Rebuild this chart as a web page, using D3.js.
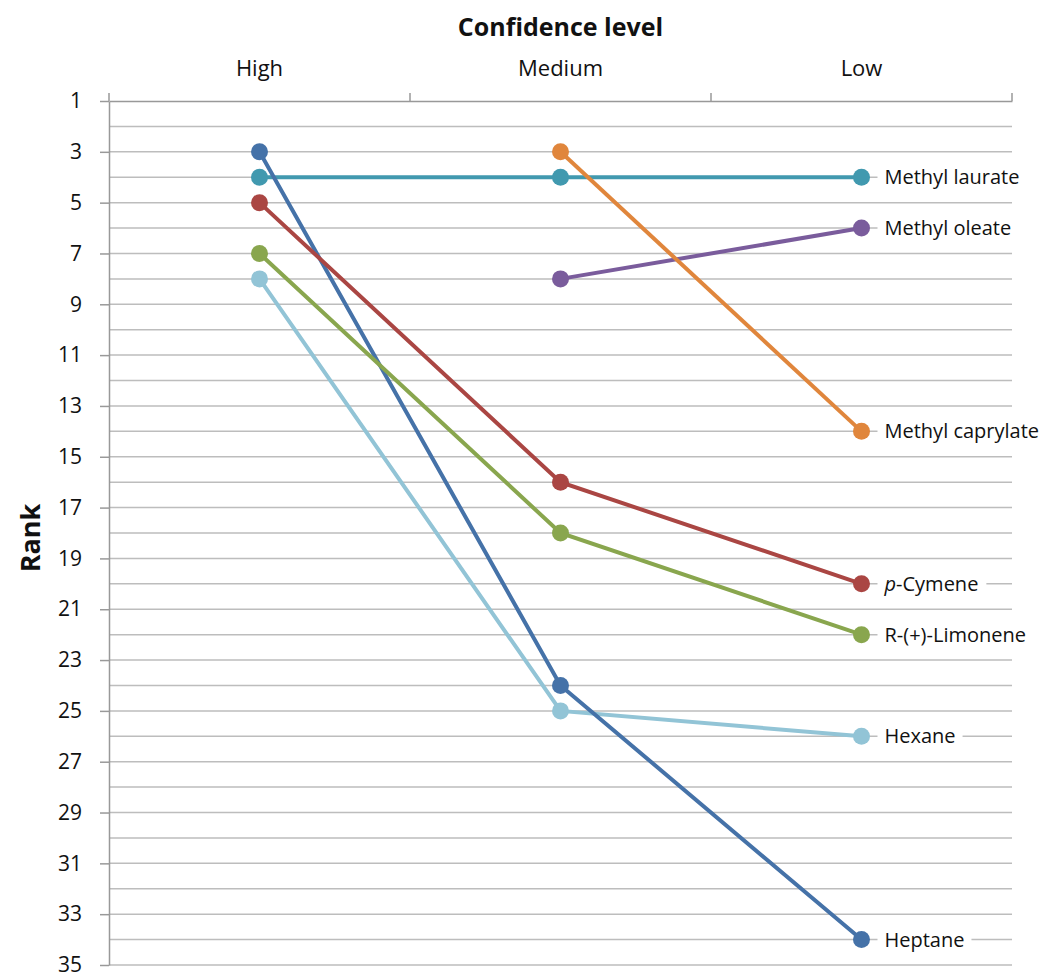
<!DOCTYPE html>
<html><head><meta charset="utf-8">
<script src="https://cdn.jsdelivr.net/npm/d3@7"></script>
<style>body{margin:0;background:#fff}</style>
</head><body>
<svg id="c" width="1043" height="973"></svg>
<script>
const levels = ["High", "Medium", "Low"];
const yTicks = [1,3,5,7,9,11,13,15,17,19,21,23,25,27,29,31,33,35];
const names = ["Methyl laurate","Hexane","Heptane","p-Cymene","R-(+)-Limonene","Methyl oleate","Methyl caprylate"];
const colors = ["#4199AF","#92C4D6","#4572A8","#AA4643","#89A64E","#7A5C9C","#E0863C"];
const heptane = [3, 24, 34];
const methylLaurate = [4, 4, 4];
const pCymene = [5, 16, 20];
const limonene = [7, 18, 22];
const hexane = [8, 25, 26];
const methylOleate = [null, 8, 6];
const methylCaprylate = [null, 3, 14];
const values = [methylLaurate, hexane, heptane, pCymene, limonene, methylOleate, methylCaprylate];

const svg = d3.select("#c");
const font = "'Open Sans', sans-serif";
const L = 109, R = 1012, T = 101, B = 965;
const x = d3.scaleBand().domain(levels).range([L, R]);
const y = d3.scaleLinear().domain([1, 35]).range([T, B]);
const cx = d => x(d) + x.bandwidth() / 2;

// gridlines at every rank
svg.append("g").selectAll("line").data(d3.range(2, 36)).join("line")
  .attr("x1", L).attr("x2", R).attr("y1", d => y(d)).attr("y2", d => y(d))
  .attr("stroke", "#bdbdbd").attr("stroke-width", 1.5);

// top axis
const xa = svg.append("g").attr("transform", `translate(0,${T})`)
  .call(d3.axisTop(x).tickSize(0).tickPadding(25));
xa.select(".domain").attr("stroke", "#999").attr("stroke-width", 1.5);
xa.selectAll("text").attr("font-family", font).attr("font-size", 22).attr("fill", "#111");
xa.selectAll(".edge").data([L, x("Medium"), x("Low"), R]).join("line")
  .attr("x1", d => d).attr("x2", d => d).attr("y1", 0).attr("y2", -8)
  .attr("stroke", "#999").attr("stroke-width", 1.5);

// left axis
const ya = svg.append("g").attr("transform", `translate(${L},0)`)
  .call(d3.axisLeft(y).tickValues(yTicks).tickSize(9).tickPadding(18).tickSizeOuter(0));
ya.select(".domain").attr("stroke", "#999").attr("stroke-width", 1.5);
ya.selectAll(".tick line").attr("stroke", "#999").attr("stroke-width", 1.5);
ya.selectAll("text").attr("font-family", font).attr("font-size", 21).attr("fill", "#111");

// titles
svg.append("text").attr("x", cx("Medium")).attr("y", 36).attr("text-anchor", "middle")
  .attr("font-family", font).attr("font-weight", "bold").attr("font-size", 25).attr("fill", "#111")
  .text("Confidence level");
svg.append("text").attr("transform", `translate(40,${(T + B) / 2 + 5}) rotate(-90)`).attr("text-anchor", "middle")
  .attr("font-family", font).attr("font-weight", "bold").attr("font-size", 27).attr("fill", "#111")
  .text("Rank");

// series
const line = d3.line().defined(d => d.v != null).x(d => cx(d.l)).y(d => y(d.v));
values.forEach((vals, i) => {
  const pts = vals.map((v, j) => ({l: levels[j], v}));
  const g = svg.append("g");
  g.append("path").datum(pts).attr("d", line).attr("fill", "none")
    .attr("stroke", colors[i]).attr("stroke-width", 4);
  g.selectAll("circle").data(pts.filter(p => p.v != null)).join("circle")
    .attr("cx", p => cx(p.l)).attr("cy", p => y(p.v)).attr("r", 8.5).attr("fill", colors[i]);
});

// labels
values.forEach((vals, i) => {
  const g = svg.append("g");
  const lx = cx("Low") + 23, ly = y(vals[2]);
  const t = g.append("text").attr("x", lx).attr("y", ly).attr("dy", "0.35em")
    .attr("font-family", font).attr("font-size", 20).attr("fill", "#111");
  if (names[i] === "p-Cymene") {
    t.append("tspan").attr("font-style", "italic").text("p");
    t.append("tspan").text("-Cymene");
  } else t.text(names[i]);
  const bb = t.node().getBBox();
  g.insert("rect", "text").attr("x", lx - 7).attr("y", ly - 12).attr("width", bb.width + 14).attr("height", 24).attr("fill", "#fff");
});
</script>
</body></html>
